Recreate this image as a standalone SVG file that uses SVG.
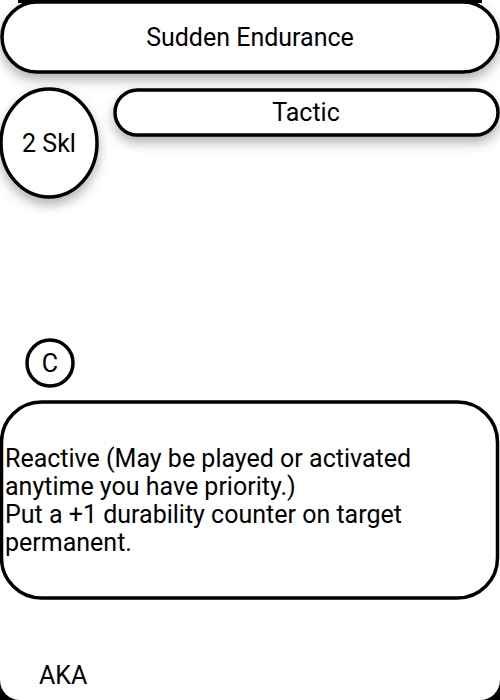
<svg xmlns="http://www.w3.org/2000/svg" width="500" height="700" viewBox="0 0 500 700">
<defs>
<style>
.shape{fill:#fff;stroke:#000;stroke-width:3.5}
.t{font-family:Roboto,"Liberation Sans",sans-serif;fill:#000;font-size:25px}
.c{text-anchor:middle}
</style>
<filter id="sh" x="-20%" y="-40%" width="140%" height="200%">
<feDropShadow dx="0" dy="6" stdDeviation="6" flood-color="#000" flood-opacity="0.3"/>
</filter>
</defs>
<rect x="0" y="0" width="500" height="700" fill="#000"/>
<path d="M0 3 H500 V680 A20 20 0 0 1 480 700 H20 A20 20 0 0 1 0 680 Z" fill="#fff"/>
<rect x="0" y="0" width="18" height="30" fill="#fff"/>
<rect x="482" y="0" width="18" height="30" fill="#fff"/>
<g id="title">
<rect class="shape" x="2" y="2" width="496" height="70" rx="35" filter="url(#sh)"/>
<text class="t c" x="250" y="46">Sudden Endurance</text>
</g>
<g id="cost">
<ellipse class="shape" cx="49" cy="143" rx="48" ry="54" filter="url(#sh)"/>
<text class="t c" x="49" y="152">2 Skl</text>
</g>
<g id="type">
<rect class="shape" x="115" y="90" width="383" height="45" rx="22.5" filter="url(#sh)"/>
<text class="t c" x="306" y="121">Tactic</text>
</g>
<g id="rarity">
<circle class="shape" cx="50" cy="363" r="23"/>
<text class="t c" x="50" y="372">C</text>
</g>
<g id="rules">
<rect class="shape" x="1.5" y="402" width="496" height="196" rx="40"/>
<text class="t">
<tspan x="5" y="467">Reactive (May be played or activated</tspan>
<tspan x="5" y="495">anytime you have priority.)</tspan>
<tspan x="5" y="523">Put a +1 durability counter on target</tspan>
<tspan x="5" y="551">permanent.</tspan>
</text>
</g>
<g id="aka">
<text class="t" x="39" y="684">AKA</text>
</g>
<g id="connectors"/>
</svg>
